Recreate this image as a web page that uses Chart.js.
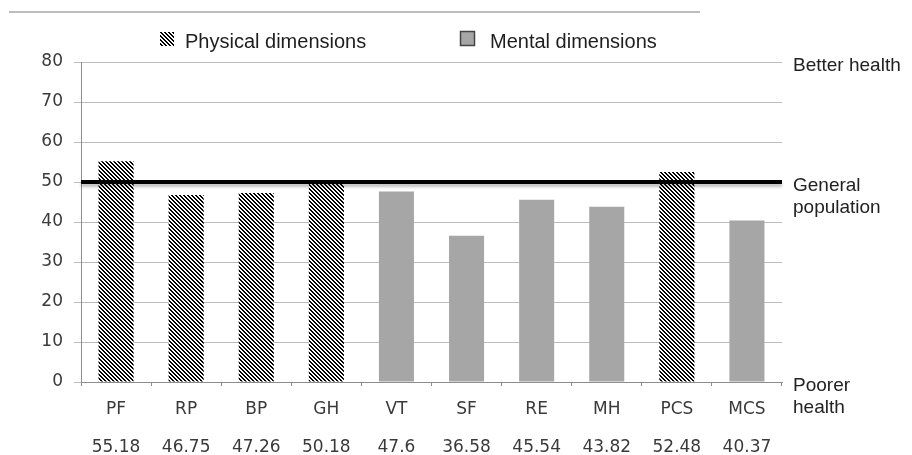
<!DOCTYPE html>
<html>
<head>
<meta charset="utf-8">
<script src="https://cdn.jsdelivr.net/npm/chart.js@4/dist/chart.umd.min.js"></script>
<style>
  html, body { margin: 0; padding: 0; background: #fff; }
  #wrap { width: 912px; height: 455px; }
</style>
</head>
<body>
<div id="wrap"><canvas id="sf36" width="912" height="455"></canvas></div>
<script>
// SF-36 domain and summary scores (norm-based, general population = 50)
const categories = ['PF', 'RP', 'BP', 'GH', 'VT', 'SF', 'RE', 'MH', 'PCS', 'MCS'];
const scores     = [55.18, 46.75, 47.26, 50.18, 47.6, 36.58, 45.54, 43.82, 52.48, 40.37];
const isPhysical = [true, true, true, true, false, false, false, false, true, false];
const seriesNames = ['Physical dimensions', 'Mental dimensions'];
const yTicks = { min: 0, max: 80, step: 10 };
const generalPopulation = 50;
const sideNotes = [
  { value: 80, lines: ['Better health'] },
  { value: 50, lines: ['General', 'population'] },
  { value: 0,  lines: ['Poorer', 'health'] }
];

const physicalScores = scores.map((v, i) => isPhysical[i] ? v : null);
const mentalScores   = scores.map((v, i) => isPhysical[i] ? null : v);

// black/white diagonal hatching for the physical bars
function makeHatch() {
  const c = document.createElement('canvas');
  c.width = 4; c.height = 4;
  const g = c.getContext('2d');
  g.fillStyle = '#ffffff';
  g.fillRect(0, 0, 4, 4);
  g.fillStyle = '#000000';
  for (let y = 0; y < 4; y++) {
    for (let x = 0; x < 4; x++) {
      if ((((x - y) % 4) + 4) % 4 < 2) g.fillRect(x, y, 1, 1);
    }
  }
  return g.createPattern(c, 'repeat');
}
const hatch = makeHatch();
const mentalGrey = '#a6a6a6';

const decorations = {
  id: 'decorations',
  beforeDraw(chart) {
    const ctx = chart.ctx;
    ctx.save();
    // thin rule across the top
    ctx.strokeStyle = '#bdbdbd';
    ctx.lineWidth = 2;
    ctx.beginPath();
    ctx.moveTo(9, 12);
    ctx.lineTo(700, 12);
    ctx.stroke();

    // legend
    ctx.font = '20px "Liberation Sans", Arial, sans-serif';
    ctx.textBaseline = 'alphabetic';
    const items = [
      { x: 160, fill: hatch, border: null, text: seriesNames[0], tx: 185 },
      { x: 460, fill: mentalGrey, border: '#444', text: seriesNames[1], tx: 490 }
    ];
    items.forEach(it => {
      ctx.fillStyle = it.fill;
      ctx.fillRect(it.x, 32, 14, 14);
      if (it.border) {
        ctx.strokeStyle = it.border;
        ctx.lineWidth = 1.5;
        ctx.strokeRect(it.x + 0.5, 31.5, 14, 14);
      }
      ctx.fillStyle = '#1e1e1e';
      ctx.fillText(it.text, it.tx, 48);
    });
    ctx.restore();
  },
  afterDatasetsDraw(chart) {
    const ctx = chart.ctx;
    const area = chart.chartArea;
    const y = chart.scales.y;
    ctx.save();
    // general population reference line
    const py = y.getPixelForValue(generalPopulation);
    ctx.shadowColor = 'rgba(0,0,0,0.25)';
    ctx.shadowBlur = 3;
    ctx.shadowOffsetY = 3;
    ctx.strokeStyle = '#000';
    ctx.lineWidth = 4;
    ctx.beginPath();
    ctx.moveTo(area.left, py);
    ctx.lineTo(area.right, py);
    ctx.stroke();
    ctx.shadowColor = 'transparent';

    // notes on the right side
    ctx.font = '19px "Liberation Sans", Arial, sans-serif';
    ctx.fillStyle = '#222';
    ctx.textAlign = 'left';
    ctx.textBaseline = 'alphabetic';
    sideNotes.forEach(n => {
      const base = y.getPixelForValue(n.value) + 9;
      n.lines.forEach((t, i) => ctx.fillText(t, area.right + 11, base + i * 22));
    });
    ctx.restore();
  }
};

new Chart(document.getElementById('sf36'), {
  type: 'bar',
  data: {
    labels: categories,
    datasets: [
      { label: seriesNames[0], data: physicalScores, backgroundColor: hatch, borderWidth: 0 },
      { label: seriesNames[1], data: mentalScores, backgroundColor: mentalGrey, borderWidth: 0 }
    ]
  },
  options: {
    responsive: false,
    devicePixelRatio: 1,
    animation: false,
    layout: { padding: { left: 0, right: 130, top: 62, bottom: 0 } },
    datasets: { bar: { grouped: false, categoryPercentage: 1.0, barPercentage: 0.5 } },
    plugins: { legend: { display: false }, tooltip: { enabled: false } },
    scales: {
      x: {
        grid: { drawOnChartArea: false, drawTicks: true, tickLength: 4, color: '#8c8c8c', offset: true },
        border: { color: '#8c8c8c', width: 1 },
        ticks: {
          padding: 5,
          color: '#3a3a3a',
          font: { family: '"DejaVu Sans", sans-serif', size: 17, lineHeight: '38px' },
          maxRotation: 0,
          autoSkip: false,
          callback: (val, i) => [categories[i], String(scores[i])]
        },
        afterFit(scale) { scale.height = 73; }
      },
      y: {
        min: yTicks.min,
        max: yTicks.max,
        grid: { color: '#bcbcbc', tickLength: 7, drawTicks: true },
        border: { color: '#8c8c8c', width: 1 },
        ticks: {
          stepSize: yTicks.step,
          padding: 11,
          color: '#3a3a3a',
          font: { family: '"DejaVu Sans", sans-serif', size: 17 }
        },
        afterFit(scale) { scale.width = 81; }
      }
    }
  },
  plugins: [decorations]
});
</script>
</body>
</html>
